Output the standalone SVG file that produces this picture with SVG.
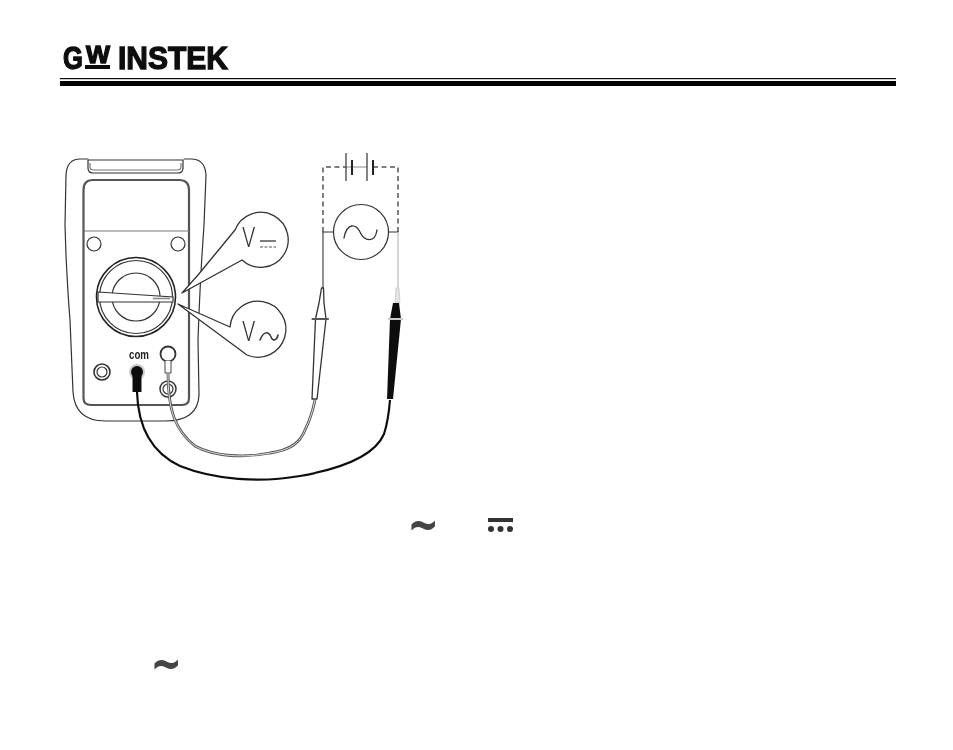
<svg xmlns="http://www.w3.org/2000/svg" width="953" height="750" viewBox="0 0 953 750">
<style>
.l{fill:none;stroke:#333;stroke-width:1.2;stroke-linecap:round;stroke-linejoin:round}
.g{fill:none;stroke:#777;stroke-width:1.2}
.p{fill:none;stroke:#555;stroke-width:2.2}
.w{fill:#fff;stroke:#333;stroke-width:1.3;stroke-linejoin:round}
.logo{font-family:"Liberation Sans",Arial,sans-serif;font-weight:700;fill:#111;stroke:#111;stroke-width:1.300}
.sym{font-family:"DejaVu Sans",sans-serif;font-weight:700;font-size:30px;fill:#444}
.v{font-family:Roboto,"Liberation Sans",Arial,sans-serif;font-weight:300;font-size:27px;fill:#333}
</style>
<defs><filter id="soft" x="0" y="0" width="100%" height="100%"><feGaussianBlur stdDeviation="0.4"/></filter></defs>
<rect width="953" height="750" fill="#fff"/>
<g filter="url(#soft)">
<g id="logo">
<text class="logo" transform="translate(63 68.500) scale(.8 1)" font-size="32">G</text>
<text class="logo" x="86" y="62.500" font-size="24" textLength="24" lengthAdjust="spacingAndGlyphs">W</text>
<rect x="85" y="65" width="25" height="4" fill="#111"/>
<text class="logo" x="118" y="68.500" font-size="32" textLength="110" lengthAdjust="spacingAndGlyphs">INSTEK</text>
</g>
<g id="header-rule">
<rect x="60" y="78" width="836" height="1.200" fill="#111"/>
<rect x="60" y="81" width="836" height="5" fill="#000"/>
</g>
<g id="meter">
<path class="l" d="M88 159H80Q67 159 66 175L65 225Q66 270 70 320L73 392Q75 421 105 421H165Q198 421 199 395L198 340Q200 280 204 225L206 175Q205 159 191 159H184"/>
<path class="l" d="M88 160H183M88 160V168Q88 173 93 173H178Q183 173 183 168V160"/>
<path class="g" d="M90 163V167Q90 170 94 170H177Q181 170 181 167V163"/>
<path class="p" d="M83.500 240V190Q83.500 180 93 180H179Q189 180 189 190V240M83.500 240V398Q83.500 405 91 405H182Q189 405 189 398V240"/>
<path class="g" d="M84 231H189"/>
<circle class="l" cx="94" cy="244" r="7"/>
<circle class="l" cx="178" cy="244" r="7"/>
<circle cx="136" cy="297" r="39.500" fill="#fff" stroke="#222" stroke-width="1.600"/>
<circle class="l" cx="136" cy="297" r="36.500"/>
<circle class="l" cx="136" cy="297" r="24"/>
<path d="M98 292L173 297V302H98Z" fill="#fff" stroke="#333" stroke-width="1.200"/>
<path d="M153 298.500H170" stroke="#888" stroke-width="1.600"/>
<circle cx="102" cy="372" r="8" fill="#fff" stroke="#333" stroke-width="1.600"/>
<circle class="l" cx="102" cy="372" r="5"/>
<text x="139" y="359" font-family="Liberation Sans,Arial,sans-serif" font-size="13" font-weight="700" fill="#222" text-anchor="middle" textLength="20" lengthAdjust="spacingAndGlyphs">com</text>
<circle cx="137" cy="372" r="8" fill="#ccc"/>
<circle cx="137" cy="372" r="6" fill="#111"/>
<rect x="132.500" y="372" width="9" height="20" fill="#111"/>
<circle cx="168" cy="389" r="8" fill="#fff" stroke="#333" stroke-width="1.500"/>
<circle class="l" cx="168" cy="389" r="5"/>
<circle cx="168" cy="354" r="7.500" fill="#fff" stroke="#333" stroke-width="1.800"/>
<path d="M165 361V373H171V361" fill="#fff" stroke="#444" stroke-width="1"/>
</g>
<g id="callout-dc">
<path class="w" d="M182 293L198 275L235 230A27.500 27.500 0 1 1 242 260Z"/>
<text class="v" transform="translate(242 247) scale(.8 1)">V</text>
<path d="M260 241H276" stroke="#333" stroke-width="1.300"/>
<path d="M260 247H276" stroke="#555" stroke-width="1.200" stroke-dasharray="3 1.500"/>
</g>
<g id="callout-ac">
<path class="w" d="M178 304L230 327A28 28 0 1 1 247 355Z"/>
<text class="v" transform="translate(242 341) scale(.8 1)">V</text>
<path class="l" d="M260 340C264 330 269 332 271 337C273 342 277 340 278 335" style="stroke-width:1.500"/>
</g>
<g id="source">
<path d="M323 232V167H346M373 167H398V232" fill="none" stroke="#555" stroke-width="1.500" stroke-dasharray="5 3.500"/>
<path d="M346 167H367" stroke="#888" stroke-width="1"/>
<path d="M346 153V181M367 153V181" stroke="#333" stroke-width="1.200"/>
<path d="M352 160V175M373 160V175" stroke="#222" stroke-width="2"/>
<circle class="l" cx="361" cy="232" r="27.500"/>
<path class="l" d="M344 238C347 222 356 224 360 232C364 241 375 244 377 230" style="stroke-width:1.300"/>
<path class="l" d="M323 232H333M389 232H398"/>
</g>
<g id="connectors">
<path d="M323 232V288" stroke="#444" stroke-width="1.200" fill="none"/>
<path d="M398 232V290" stroke="#bbb" stroke-width="1.200" fill="none"/>
<path d="M137 392C138 425 150 452 180 466C215 480 260 483 300 476C345 468 375 455 384 434C388 422 389 412 390 400" fill="none" stroke="#111" stroke-width="2.200"/>
<path d="M168 373C168 410 175 430 195 446C215 457 245 458 270 453C290 450 300 443 305 430C310 420 313 410 315 400" fill="none" stroke="#555" stroke-width="2.800"/>
<path d="M168 373C168 410 175 430 195 446C215 457 245 458 270 453C290 450 300 443 305 430C310 420 313 410 315 400" fill="none" stroke="#ddd" stroke-width="1"/>
</g>
<g id="probe-red">
<path class="w" d="M321.500 288H323.500L324 303L326 319L317 399H312L315.500 319L319 303Z"/>
<path d="M312.500 319H328" stroke="#555" stroke-width="2.200" stroke-linecap="round"/>
</g>
<g id="probe-black">
<path d="M396 288H399L400 303H395Z" fill="#e4e4e4" stroke="#bbb" stroke-width=".6"/>
<path d="M393 303H399L401 319L393 399H387L390 319Z" fill="#111"/>
<path d="M388 319H403" stroke="#ccc" stroke-width="2"/>
</g>
<g id="symbols">
<text class="sym" transform="translate(407.500 542) scale(1.250 1.700)">~</text>
<rect x="488" y="518" width="25" height="4" fill="#333"/>
<circle cx="491" cy="529" r="3" fill="#333"/>
<circle cx="500.500" cy="529" r="3" fill="#333"/>
<circle cx="510" cy="529" r="3" fill="#333"/>
<text class="sym" transform="translate(150.500 681) scale(1.250 1.700)">~</text>
</g>
</g>
</svg>
